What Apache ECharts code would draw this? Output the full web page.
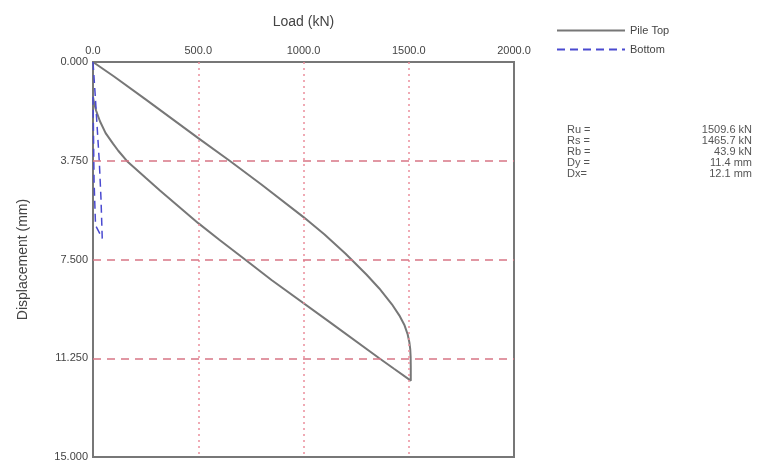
<!DOCTYPE html>
<html>
<head>
<meta charset="utf-8">
<script src="https://cdn.jsdelivr.net/npm/echarts@6/dist/echarts.min.js"></script>
<style>
  html, body { margin: 0; padding: 0; background: #fff; }
  #chart { width: 760px; height: 466px; }
</style>
</head>
<body>
<div id="chart"></div>
<script>
// pile top: loading then unloading (load kN, displacement mm)
var topLoad = [0, 100, 250, 500, 649, 800, 1000, 1100, 1200, 1300, 1360, 1420, 1455, 1480, 1495, 1503, 1507, 1509, 1509.6, 1509.6,
  1430, 1360, 1123, 848, 730, 600, 500, 318, 250, 166, 120, 95, 60, 33, 15, 5, 0];
var topDisp = [0, 0.55, 1.42, 2.89, 3.75, 4.65, 5.89, 6.55, 7.28, 8.08, 8.6, 9.2, 9.62, 10.0, 10.35, 10.65, 10.9, 11.2, 11.6, 12.1,
  11.65, 11.25, 9.87, 8.28, 7.55, 6.75, 6.12, 4.88, 4.4, 3.8, 3.37, 3.1, 2.7, 2.25, 1.85, 1.55, 1.33];
// pile bottom
var botLoad = [0, 10, 20, 30, 38, 43.9, 12, 5, 2, 0];
var botDisp = [0, 1.2, 2.5, 3.8, 5.2, 6.7, 6.2, 4.5, 2.5, 1.2];

var xGrid = [500, 1000, 1500];
var yGrid = [3.75, 7.5, 11.25];

var statLabels = ['Ru =', 'Rs =', 'Rb =', 'Dy =', 'Dx='];
var statValues = ['1509.6 kN', '1465.7 kN', '43.9 kN', '11.4 mm', '12.1 mm'];

function zip(a, b) {
  var out = [];
  for (var i = 0; i < a.length; i++) out.push([a[i], b[i]]);
  return out;
}

var font = 'Liberation Sans';
var statGraphics = [];
statLabels.forEach(function (s, i) {
  statGraphics.push({
    type: 'text', left: 567, top: 124 + i * 11,
    style: { text: s, font: '11px "Liberation Sans"', fill: '#555' }
  });
  statGraphics.push({
    type: 'text', right: 8, top: 124 + i * 11,
    style: { text: statValues[i], font: '11px "Liberation Sans"', fill: '#555', textAlign: 'right' }
  });
});

var myChart = echarts.init(document.getElementById('chart'));
var option = {
  animation: false,
  textStyle: { fontFamily: font },
  grid: {
    left: 93, top: 62, width: 421, height: 395,
    show: true, borderColor: '#777', borderWidth: 2, backgroundColor: '#fff'
  },
  legend: {
    orient: 'vertical',
    left: 551, top: 20,
    itemWidth: 68, itemHeight: 12, itemGap: 8,
    itemStyle: { opacity: 0 },
    textStyle: { fontFamily: font, fontSize: 11, color: '#444' },
    data: ['Pile Top', 'Bottom']
  },
  xAxis: {
    type: 'value', position: 'top',
    min: 0, max: 2000, interval: 500,
    name: 'Load (kN)', nameLocation: 'middle', nameGap: 33,
    nameTextStyle: { fontFamily: font, fontSize: 14, color: '#444' },
    axisLine: { show: true, lineStyle: { color: '#777', width: 2 } },
    axisTick: { show: false },
    axisLabel: { color: '#444', fontSize: 11, margin: 6, formatter: function (v) { return v.toFixed(1); } },
    splitLine: { show: false }
  },
  yAxis: {
    type: 'value', inverse: true,
    min: 0, max: 15, interval: 3.75,
    name: 'Displacement (mm)', nameLocation: 'middle', nameGap: 63,
    nameTextStyle: { fontFamily: font, fontSize: 14, color: '#444' },
    axisLine: { show: true, lineStyle: { color: '#777', width: 2 } },
    axisTick: { show: false },
    axisLabel: { color: '#444', fontSize: 11, margin: 5, formatter: function (v) { return v.toFixed(3); } },
    splitLine: { show: false }
  },
  graphic: statGraphics,
  series: [{
    name: 'Pile Top', type: 'line',
    data: zip(topLoad, topDisp),
    symbol: 'none',
    lineStyle: { color: '#777', width: 2 },
    itemStyle: { color: '#777' },
    z: 3,
    markLine: {
      silent: true, symbol: 'none', label: { show: false },
      data: xGrid.map(function (v) {
        return { xAxis: v, lineStyle: { color: '#ec8f9c', type: [2, 4], width: 1.5 } };
      }).concat(yGrid.map(function (v) {
        return { yAxis: v, lineStyle: { color: '#d87585', type: [8, 6], width: 1.5 } };
      }))
    }
  }, {
    name: 'Bottom', type: 'line',
    data: zip(botLoad, botDisp),
    symbol: 'none',
    lineStyle: { color: '#4a4ad0', width: 1.5, type: [8, 5] },
    itemStyle: { color: '#4a4ad0' },
    z: 4
  }]
};
myChart.setOption(option);
window.addEventListener('resize', function () {
  myChart.resize();
});
</script>
</body>
</html>
